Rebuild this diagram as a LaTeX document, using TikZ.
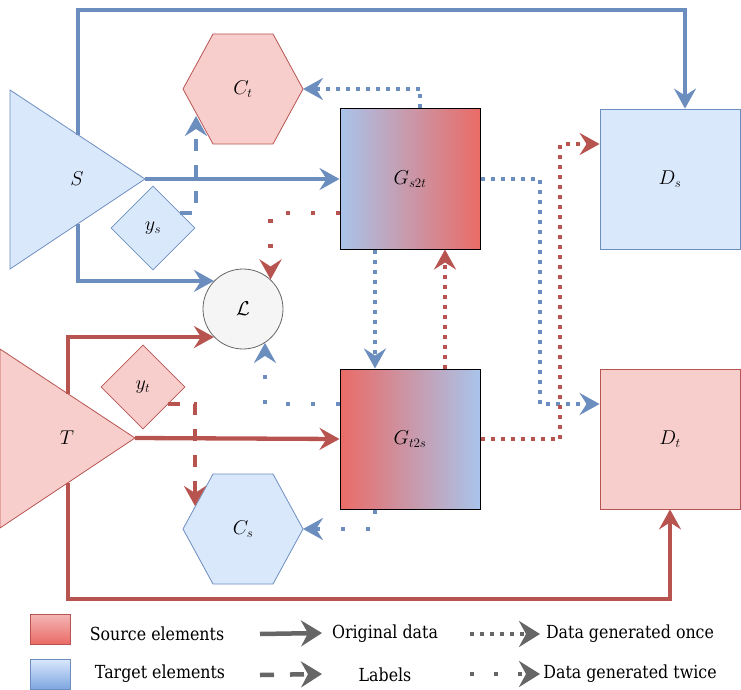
\RequirePackage{fix-cm}
\documentclass[tikz,border=0pt]{standalone}
\usepackage{fontspec}
\usetikzlibrary{arrows.meta,shapes.geometric}
\newfontfamily\legendfont{DejaVu Serif}[FakeStretch=0.88]
\DeclareMathSizes{20}{20}{13}{9}
\definecolor{bl}{HTML}{6C8EBF}
\definecolor{blf}{HTML}{DAE8FC}
\definecolor{rd}{HTML}{B85450}
\definecolor{rdf}{HTML}{F8CECC}
\definecolor{gr}{HTML}{666666}
\definecolor{grf}{HTML}{F5F5F5}
\definecolor{gblue}{HTML}{A9C4EB}
\definecolor{gred}{HTML}{EA6B66}
\definecolor{lgred}{HTML}{F4B6B5}
\definecolor{lgblue}{HTML}{7EA6E0}
\begin{document}
\begin{tikzpicture}[x=1pt,y=-1pt,
  conn/.style={line width=4.3pt, -{Stealth[length=20pt,width=22pt,inset=7pt]}},
  solidc/.style={conn},
  once/.style={conn, dash pattern=on 4pt off 6pt},
  twice/.style={conn, dash pattern=on 4pt off 21pt},
  labc/.style={conn, dash pattern=on 12pt off 14pt},
  mfont/.style={font=\fontsize{20}{22}\selectfont},
  genbox/.style={draw=black, line width=1pt, minimum width=140pt, minimum height=140pt, inner sep=0pt, mfont},
  discbox/.style={line width=0.8pt, minimum width=140pt, minimum height=140pt, inner sep=0pt, mfont},
  lbl/.style={mfont, inner sep=0pt},
  dia/.style={diamond, line width=0.8pt, minimum width=84pt, minimum height=84pt, inner sep=0pt, mfont},
  legtxt/.style={font=\legendfont\fontsize{18}{20}\selectfont, inner sep=0pt},
  legarr/.style={gr, line width=4.5pt, -{Stealth[length=21pt,width=26pt,inset=7pt]}},
  shp/.style={line width=0.8pt}
]
\useasboundingbox (0,0) rectangle (741,690);

% ---- shapes ----
% S triangle
\filldraw[shp, fill=blf, draw=bl] (10,90) -- (145,179) -- (10,269) -- cycle;
\node[lbl] (S) at (77,179) {$S$};
\coordinate (Stip) at (145,179);
% T triangle
\filldraw[shp, fill=rdf, draw=rd] (0,349) -- (135,438) -- (0,528) -- cycle;
\node[lbl] (T) at (67,438) {$T$};
\coordinate (Ttip) at (135,438);
% C_t hexagon
\filldraw[shp, fill=rdf, draw=rd] (183,89) -- (213,34) -- (273,34) -- (303,89) -- (273,144) -- (213,144) -- cycle;
\node[lbl] (Ct) at (243,89) {$C_t$};
\coordinate (Cte) at (303,89);
\coordinate (Ctin) at (196,116);
% C_s hexagon
\filldraw[shp, fill=blf, draw=bl] (183,529) -- (213,474) -- (273,474) -- (303,529) -- (273,584) -- (213,584) -- cycle;
\node[lbl] (Cs) at (243,529) {$C_s$};
\coordinate (Cse) at (303,529);
\coordinate (Csin) at (195,506);

% generators
\node[genbox, left color=gblue, right color=gred] (Gs) at (410,179) {$G_{s2t}$};
\node[genbox, left color=gred, right color=gblue] (Gt) at (410,439) {$G_{t2s}$};
% discriminators
\node[discbox, draw=bl, fill=blf] (Ds) at (670,179) {$D_s$};
\node[discbox, draw=rd, fill=rdf] (Dt) at (670,439) {$D_t$};
% loss
\node[circle, draw=gr, fill=grf, line width=0.8pt, minimum size=80pt, inner sep=0pt, mfont] (L) at (243,309) {$\mathcal{L}$};
% label diamonds
\node[dia, draw=bl, fill=blf] (ys) at (153,228) {$y_s$};
\node[dia, draw=rd, fill=rdf] (yt) at (143,387) {$y_t$};
\coordinate (ysout) at (180,213);
\coordinate (ytout) at (168,404);

% ---- connectors ----
% original data (solid)
\draw[solidc, bl] (78,135) -- (78,10) -| ([xshift=15pt]Ds.north);
\draw[solidc, bl] (Stip) -- (Gs.west);
\draw[solidc, bl] (78,224) |- (L.136);
\draw[solidc, rd] (68,394) |- (L.224);
\draw[solidc, rd] (Ttip) -- (Gt.west);
\draw[solidc, rd] (68,483) -- (68,599) -| (Dt.south);
% labels (dashed)
\draw[labc, bl] (ysout) -- (196,213) -- (Ctin);
\draw[labc, rd] (ytout) -- (195,404) -- (Csin);
% generated once
\draw[once, bl] ([xshift=10pt]Gs.north) |- (Cte);
\draw[once, bl] (Gs.east) -- (540,179) |- ([yshift=35pt]Dt.west);
\draw[once, bl] ([xshift=-35pt]Gs.south) -- ([xshift=-35pt]Gt.north);
\draw[once, rd] (Gt.east) -- (560,439) |- ([yshift=35pt]Ds.west);
\draw[once, rd] ([xshift=35pt]Gt.north) -- ([xshift=35pt]Gs.south);
% generated twice
\draw[twice, rd] ([yshift=-34pt]Gs.west) -| (L.47.5);
\draw[twice, bl] ([yshift=35pt]Gt.west) -| (L.303);
\draw[twice, bl] ([xshift=-35pt]Gt.south) |- (Cse);

% ---- legend ----
\node[draw=rd, line width=1pt, top color=lgred, bottom color=gred, minimum width=40pt, minimum height=30pt, inner sep=0pt] (lsrc) at (50,629) {};
\node[draw=bl, line width=1pt, top color=blf, bottom color=lgblue, minimum width=40pt, minimum height=30pt, inner sep=0pt] (ltgt) at (50,674) {};
\node[legtxt] (tsrc) at (157,634) {Source elements};
\node[legtxt] (ttgt) at (160,674) {Target elements};
\coordinate (a1s) at (260,634); \coordinate (a1e) at (322,633);
\coordinate (a2s) at (260,675); \coordinate (a2e) at (322,674);
\coordinate (a3s) at (470,634); \coordinate (a3e) at (540,634);
\coordinate (a4s) at (470,674); \coordinate (a4e) at (540,674);
\draw[legarr] (a1s) -- (a1e);
\draw[legarr, dash pattern=on 14pt off 16pt] (a2s) -- (a2e);
\draw[legarr, dash pattern=on 4pt off 6pt] (a3s) -- (a3e);
\draw[legarr, dash pattern=on 4pt off 20pt] (a4s) -- (a4e);
\node[legtxt] (t1) at (385,634) {Original data};
\node[legtxt] (t2) at (385,675) {Labels};
\node[legtxt] (t3) at (630,634) {Data generated once};
\node[legtxt] (t4) at (630,674) {Data generated twice};
\end{tikzpicture}
\end{document}
